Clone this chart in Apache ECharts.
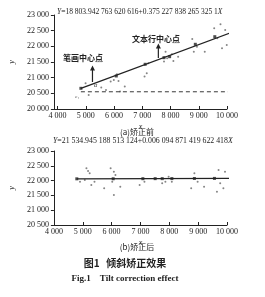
<!DOCTYPE html>
<html>
<head>
<meta charset="utf-8">
<script src="https://cdn.jsdelivr.net/npm/echarts@6/dist/echarts.min.js"></script>
<style>
  html, body { margin: 0; padding: 0; background: #fff; }
  #chart { width: 265px; height: 297px; }
</style>
</head>
<body>
<div id="chart"></div>
<script>
// x tick labels, same for both panels
const xTicks = [4000, 5000, 6000, 7000, 8000, 9000, 10000];

// (a) before correction
const fitBefore = [[4826, 20660], [10090, 22420]];
const baseBefore = [[4826, 20550], [10090, 20550]];
const rowCentersBefore = [[4826, 20660], [6079, 21054], [7102, 21427], [7768, 21638], [7968, 21670], [8878, 22065], [9568, 22308]];
const strokesBefore = [
  [4992, 20821], [5103, 20449], [5547, 20683], [5714, 20608], [5880, 20874], [6158, 20895],
  [6214, 20555], [6380, 20715], [6103, 21108], [5991, 20927],
  [7158, 21140], [7080, 21034], [7214, 21459],
  [7769, 21512], [7880, 21618], [8047, 21746], [8102, 21533], [8269, 21671], [7825, 21831],
  [8769, 22235], [8936, 21990], [9213, 21831], [8825, 21831],
  [9547, 22575], [9769, 22702], [9935, 22522], [9991, 22043], [9824, 21937], [9658, 22256], [10047, 22309]
];
const arrowStroke = [[5236, 20862], [5236, 21309]];
const arrowRow = [[7569, 21628], [7569, 22011]];

// (b) after correction
const fitAfter = [[4794, 22060], [10090, 22075]];
const rowCentersAfter = [[4794, 22060], [6055, 22062], [7084, 22064], [7510, 22066], [7754, 22066], [8089, 22068], [8870, 22072], [9565, 22074]];
const strokesAfter = [
  [5128, 22415], [5240, 22246], [4905, 21964], [5072, 22020], [5407, 21964], [5296, 21852], [5184, 22325],
  [5966, 22415], [6078, 22302], [6022, 21964], [5742, 21739], [6078, 21514], [6301, 21795], [6134, 22189],
  [7083, 22077], [6971, 21852], [7139, 21964],
  [7753, 22054], [7865, 21964], [7977, 22133], [8088, 21964], [7753, 21908],
  [8870, 22246], [8982, 21964], [9205, 21795], [8758, 21739],
  [9708, 22358], [9931, 22302], [9764, 21908], [9875, 21739], [9652, 21626], [10043, 22020]
];

const serif = '"Liberation Serif", "DejaVu Serif", serif';
const cjk = '"Noto Sans CJK SC", sans-serif';
const ink = '#222';

const fmt = v => String(v).replace(/\B(?=(\d{3})+$)/g, ' ');

function xAxisOf(gridIndex, min) {
  return {
    gridIndex, type: 'value', min, max: 10000,
    name: 'x', nameLocation: 'middle', nameGap: 14,
    nameTextStyle: { fontFamily: serif, fontStyle: 'italic', fontSize: 8, color: ink },
    splitLine: { show: false },
    axisLine: { lineStyle: { color: ink, width: 1 } },
    axisTick: { length: 3, inside: true, lineStyle: { color: ink }, customValues: xTicks },
    axisLabel: { fontFamily: serif, fontSize: 8, color: ink, margin: 3, formatter: fmt, customValues: xTicks }
  };
}
function yAxisOf(gridIndex, min, gap) {
  return {
    gridIndex, type: 'value', min, max: 23000, interval: 500,
    name: 'y', nameLocation: 'middle', nameGap: gap, nameRotate: 90,
    nameTextStyle: { fontFamily: serif, fontStyle: 'italic', fontSize: 8, color: ink },
    splitLine: { show: false },
    axisLine: { show: true, lineStyle: { color: ink, width: 1 } },
    axisTick: { show: true, length: 3, lineStyle: { color: ink } },
    axisLabel: { fontFamily: serif, fontSize: 8, color: ink, margin: 5, formatter: fmt }
  };
}

function eqText(left, top, size, body) {
  const base = { fontFamily: serif, fontSize: size, fill: ink };
  return {
    type: 'text', left, top,
    style: {
      text: '{i|Y}=' + body + '{i|X}',
      font: size + 'px ' + serif, fill: ink,
      rich: { i: Object.assign({}, base, { fontStyle: 'italic' }) }
    }
  };
}

const chart = echarts.init(document.getElementById('chart'), null, { renderer: 'canvas' });

const option = {
  animation: false,
  backgroundColor: '#fff',
  grid: [
    { left: 43, top: 15, width: 184, height: 94 },
    { left: 48, top: 151, width: 179, height: 74 }
  ],
  xAxis: [xAxisOf(0, 3870), xAxisOf(1, 4000)],
  yAxis: [yAxisOf(0, 20000, 31), yAxisOf(1, 20500, 36)],
  series: [
    { type: 'line', xAxisIndex: 0, yAxisIndex: 0, data: fitBefore, clip: false, symbol: 'none',
      lineStyle: { color: ink, width: 1.2 } },
    { type: 'line', xAxisIndex: 0, yAxisIndex: 0, data: baseBefore, clip: false, symbol: 'none',
      lineStyle: { color: ink, width: 0.9, type: [4, 3] } },
    { type: 'scatter', xAxisIndex: 0, yAxisIndex: 0, data: rowCentersBefore, symbol: 'rect', symbolSize: 3,
      itemStyle: { color: ink } },
    { type: 'scatter', xAxisIndex: 0, yAxisIndex: 0, data: strokesBefore, symbol: 'circle', symbolSize: 2,
      itemStyle: { color: '#666' } },
    { type: 'line', xAxisIndex: 0, yAxisIndex: 0, data: arrowStroke, showSymbol: false,
      lineStyle: { color: ink, width: 1.2 },
      markPoint: { symbol: 'triangle', symbolSize: [5, 5], data: [{ coord: arrowStroke[1] }],
        itemStyle: { color: ink }, label: { show: false } } },
    { type: 'line', xAxisIndex: 0, yAxisIndex: 0, data: arrowRow, showSymbol: false,
      lineStyle: { color: ink, width: 1.2 },
      markPoint: { symbol: 'triangle', symbolSize: [5, 5], data: [{ coord: arrowRow[1] }],
        itemStyle: { color: ink }, label: { show: false } } },

    { type: 'line', xAxisIndex: 1, yAxisIndex: 1, data: fitAfter, clip: false, symbol: 'none',
      lineStyle: { color: ink, width: 1.2 } },
    { type: 'scatter', xAxisIndex: 1, yAxisIndex: 1, data: rowCentersAfter, symbol: 'rect', symbolSize: 3,
      itemStyle: { color: ink } },
    { type: 'scatter', xAxisIndex: 1, yAxisIndex: 1, data: strokesAfter, symbol: 'circle', symbolSize: 2,
      itemStyle: { color: '#666' } }
  ],
  graphic: [
    eqText(57, 8, 7.5, '18 803.942 763 620 616+0.375 227 838 265 325 1'),
    eqText(53, 137, 7.8, '21 534.945 188 513 124+0.006 094 871 419 622 418'),
    { type: 'text', left: 63, top: 54, style: { text: '笔画中心点', font: 'bold 8px ' + cjk, fill: ink } },
    { type: 'text', left: 132, top: 35, style: { text: '文本行中心点', font: 'bold 8px ' + cjk, fill: ink } },
    { type: 'text', left: 94, top: 82, style: { text: 'α', font: 'italic 6px ' + serif, fill: ink } },
    { type: 'text', left: 75, top: 94, style: { text: 'c₁', font: 'italic 5px ' + serif, fill: '#444' } },
    { type: 'text', x: 137, y: 132, style: { text: '(a)矫正前', font: '8px ' + cjk, fill: ink, align: 'center', verticalAlign: 'middle' } },
    { type: 'text', x: 137, y: 247, style: { text: '(b)矫正后', font: '8px ' + cjk, fill: ink, align: 'center', verticalAlign: 'middle' } },
    { type: 'text', x: 125, y: 263, style: { text: '图1   倾斜矫正效果', font: 'bold 10px ' + cjk, fill: ink, align: 'center', verticalAlign: 'middle' } },
    { type: 'text', x: 125, y: 279, style: { text: 'Fig.1    Tilt correction effect', font: 'bold 9px ' + serif, fill: ink, align: 'center', verticalAlign: 'middle' } }
  ]
};

chart.setOption(option);
</script>
</body>
</html>
